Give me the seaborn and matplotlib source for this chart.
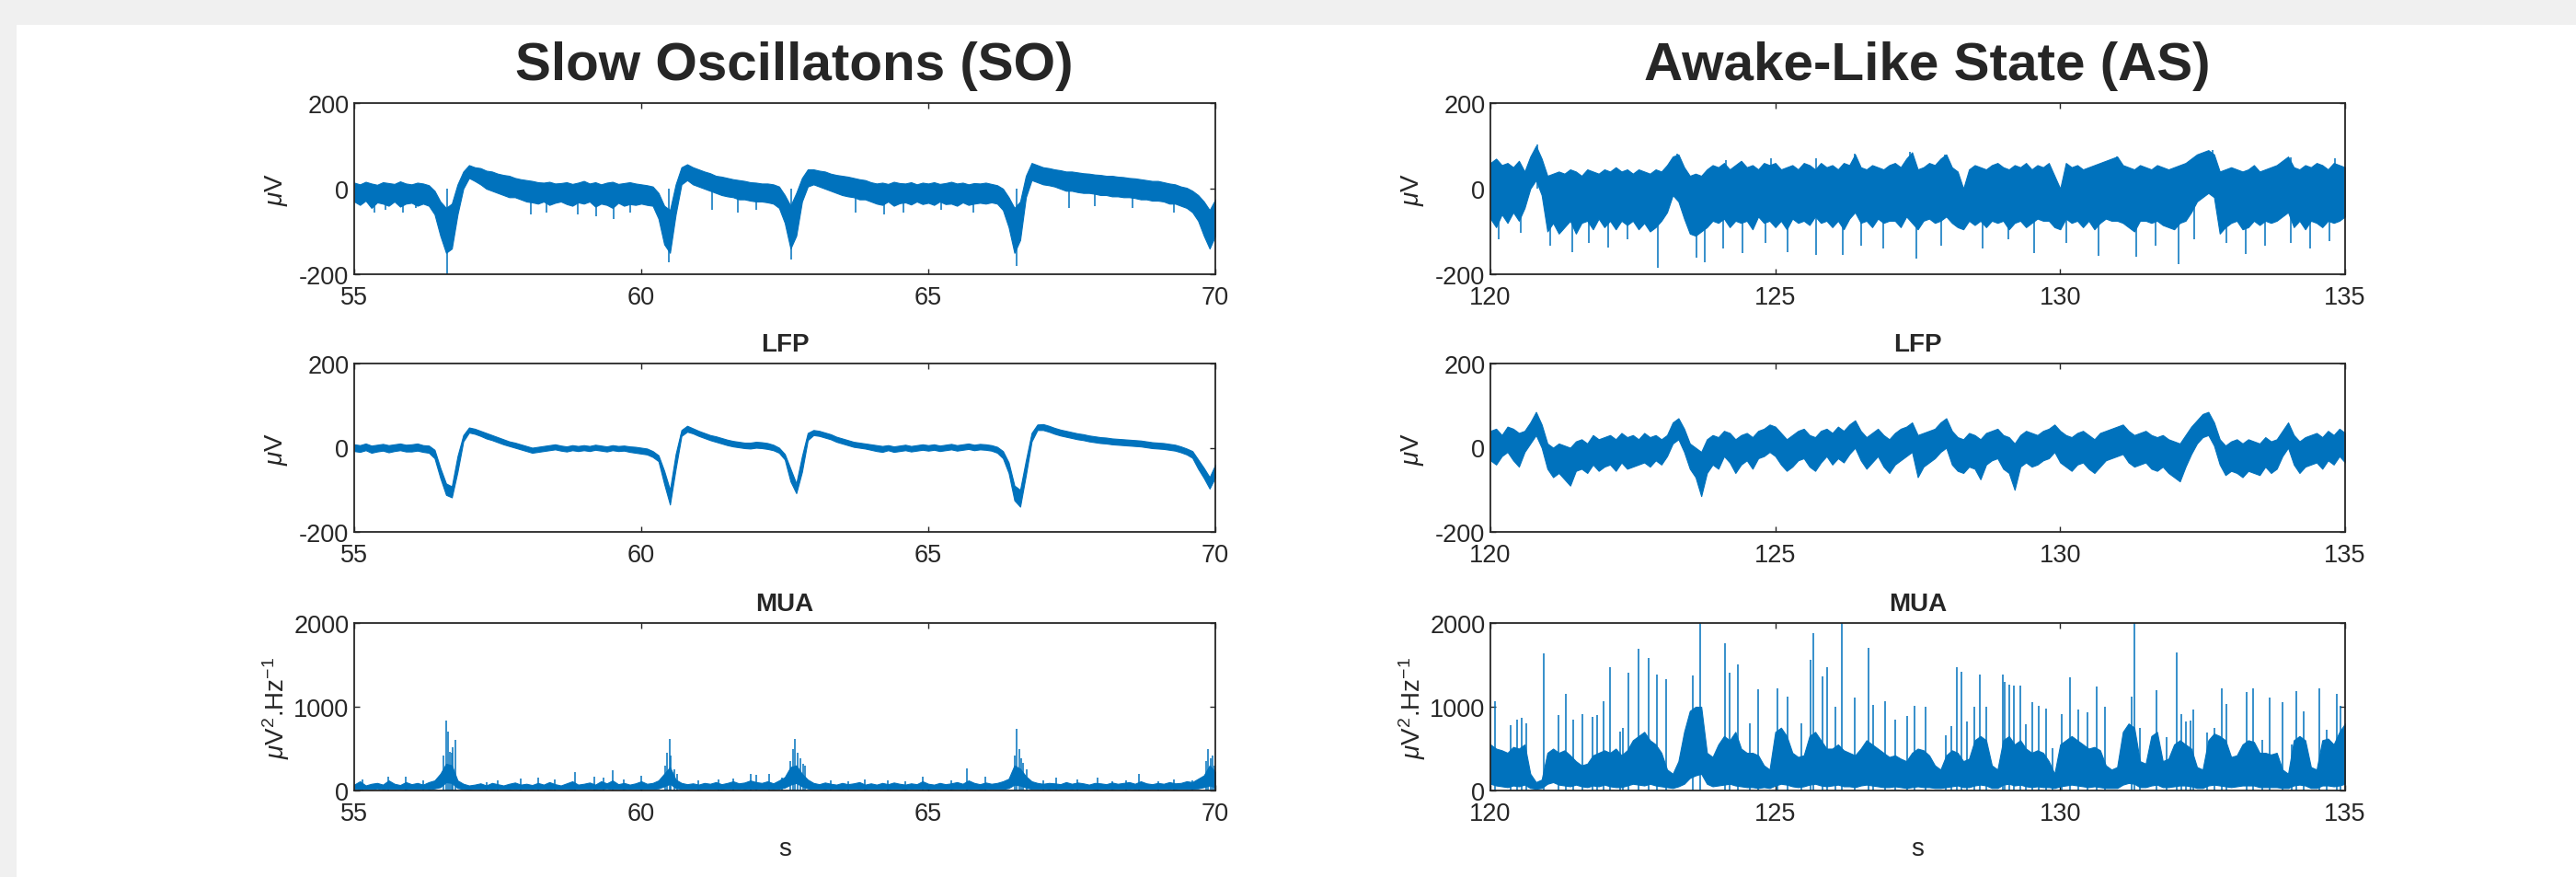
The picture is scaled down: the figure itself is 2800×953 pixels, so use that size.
import numpy as np
import pandas as pd
import matplotlib
matplotlib.use("Agg")
import matplotlib.pyplot as plt
import seaborn as sns
from matplotlib.patches import Rectangle

sns.set_style("white")
plt.rcParams["font.family"] = ["Liberation Sans", "DejaVu Sans"]
plt.rcParams["mathtext.fontset"] = "custom"
plt.rcParams["mathtext.rm"] = "Liberation Sans"
plt.rcParams["mathtext.it"] = "Liberation Sans:italic"
plt.rcParams["mathtext.bf"] = "Liberation Sans:bold"
plt.rcParams["axes.unicode_minus"] = False

TRACE = "#0072BD"
INK = "#262626"
DT = 0.1  # envelope sampling step (s)

# ---------------- Slow oscillations (SO), 55-70 s ----------------
so_t0 = 55.0
so_xticks = [55, 60, 65, 70]

# wideband signal: upper / lower envelope (uV)
so_raw_hi = [
    14, 10, 16, 12, 9, 15, 13, 11, 17, 12,
    10, 14, 12, 8, -5, -30, -45, -35, 10, 40,
    55, 50, 48, 42, 40, 35, 32, 30, 25, 22,
    20, 18, 15, 14, 16, 12, 13, 15, 11, 14,
    18, 12, 15, 10, 14, 16, 11, 13, 15, 12,
    10, 8, 5, -10, -40, -50, 10, 50, 57, 50,
    45, 40, 36, 30, 28, 25, 22, 20, 18, 15,
    14, 12, 12, 10, 5, -15, -40, -10, 25, 45,
    45, 42, 40, 35, 32, 30, 28, 25, 22, 20,
    15, 12, 14, 11, 16, 13, 12, 15, 10, 14,
    12, 15, 11, 13, 16, 12, 14, 10, 13, 12,
    14, 11, 8, 0, -20, -45, -30, 30, 60, 55,
    50, 48, 45, 43, 40, 40, 38, 36, 35, 33,
    32, 30, 30, 28, 27, 25, 24, 22, 20, 18,
    18, 15, 12, 10, 5, 2, -5, -15, -30, -50,
    -25]
so_raw_lo = [
    -30, -38, -28, -45, -32, -35, -40, -30, -42, -35,
    -33, -40, -35, -40, -60, -110, -150, -140, -60, 0,
    25, 18, 10, 0, -5, -10, -15, -20, -20, -25,
    -30, -32, -35, -30, -38, -33, -30, -36, -40, -32,
    -35, -30, -42, -35, -38, -45, -33, -40, -36, -38,
    -35, -38, -40, -70, -130, -150, -60, 10, 20, 10,
    5, 0, -5, -10, -15, -18, -20, -25, -25, -28,
    -30, -30, -32, -35, -45, -80, -140, -110, -30, 5,
    10, 5, 0, -5, -10, -15, -18, -20, -25, -25,
    -30, -35, -38, -30, -40, -34, -32, -37, -30, -36,
    -33, -38, -30, -36, -35, -40, -32, -38, -35, -33,
    -35, -32, -35, -50, -90, -150, -120, -20, 20, 15,
    10, 8, 5, 0, -5, -5, -8, -10, -10, -12,
    -15, -15, -18, -18, -20, -20, -22, -25, -25, -28,
    -28, -30, -35, -35, -40, -45, -55, -75, -110, -140,
    -110]
# isolated deflections beyond the envelope (time s, peak uV)
so_raw_spk_t = [55.35, 55.55, 55.85, 56.08, 56.62, 58.07, 58.35, 58.9, 59.22,
                59.52, 59.8, 60.48, 61.24, 61.68, 62.01, 62.62, 63.73, 64.23,
                64.57, 65.23, 65.78, 66.54, 67.45, 67.9, 68.55, 69.28]
so_raw_spk_v = [-55, -50, -55, -45, -200, -60, -55, -60, -65,
                -70, -55, -173, -50, -55, -50, -165, -55, -60,
                -55, -50, -55, -180, -45, -40, -45, -55]

# LFP: upper / lower envelope (uV)
so_lfp_hi = [
    8, 6, 10, 5, 7, 9, 6, 8, 10, 7,
    8, 10, 6, 5, -5, -48, -85, -92, -20, 30,
    48, 45, 40, 35, 30, 25, 20, 15, 12, 8,
    4, 0, 2, 4, 6, 8, 5, 3, 6, 4,
    6, 4, 7, 5, 3, 6, 4, 5, 3, 2,
    0, -2, -8, -18, -55, -100, -15, 42, 52, 46,
    40, 35, 30, 27, 23, 19, 16, 14, 12, 12,
    14, 13, 11, 7, 0, -15, -50, -85, -20, 35,
    42, 40, 36, 32, 26, 22, 18, 14, 12, 10,
    8, 6, 4, 6, 3, 5, 7, 4, 6, 8,
    6, 8, 5, 7, 9, 6, 8, 10, 7, 9,
    8, 6, 2, -8, -35, -90, -100, -30, 35, 55,
    56, 52, 47, 43, 40, 37, 34, 32, 29, 27,
    25, 24, 22, 21, 20, 19, 18, 17, 15, 13,
    12, 11, 9, 7, 3, -2, -8, -28, -48, -70,
    -40]
so_lfp_lo = [
    -8, -10, -6, -12, -9, -7, -11, -8, -6, -9,
    -9, -7, -10, -12, -25, -72, -112, -118, -57, 15,
    36, 33, 28, 22, 18, 13, 8, 4, 0, -4,
    -8, -12, -10, -8, -6, -4, -7, -9, -6, -8,
    -6, -8, -5, -7, -9, -6, -8, -7, -10, -12,
    -14, -16, -22, -32, -86, -135, -50, 28, 38, 34,
    28, 23, 18, 14, 10, 6, 3, 1, -1, -2,
    0, -1, -3, -6, -12, -28, -80, -108, -57, 18,
    30, 28, 24, 20, 14, 10, 6, 2, 0, -2,
    -5, -8, -10, -6, -10, -8, -6, -9, -7, -5,
    -7, -5, -8, -6, -4, -7, -5, -3, -6, -4,
    -5, -7, -12, -25, -60, -125, -140, -65, 15, 42,
    42, 38, 33, 29, 26, 23, 20, 18, 15, 13,
    11, 10, 8, 7, 6, 5, 4, 3, 1, -1,
    -2, -3, -5, -7, -11, -16, -24, -50, -72, -97,
    -70]

# MUA power: upper / lower envelope (uV^2/Hz)
so_mua_hi = [
    70, 110, 60, 80, 90, 70, 120, 80, 65, 100,
    75, 90, 70, 100, 120, 200, 320, 300, 120, 80,
    60, 70, 85, 60, 90, 75, 60, 80, 95, 70,
    80, 65, 90, 70, 100, 75, 60, 85, 110, 70,
    80, 95, 70, 110, 85, 120, 75, 90, 70, 85,
    110, 80, 90, 120, 200, 280, 130, 90, 75, 85,
    70, 90, 80, 100, 75, 90, 110, 85, 95, 120,
    100, 90, 110, 85, 120, 160, 280, 300, 200, 130,
    90, 75, 95, 80, 70, 90, 75, 85, 100, 70,
    85, 70, 90, 75, 95, 80, 70, 85, 75, 110,
    80, 70, 90, 75, 85, 100, 80, 120, 90, 75,
    95, 80, 90, 110, 140, 300, 260, 170, 110, 90,
    80, 90, 85, 75, 100, 80, 95, 85, 70, 90,
    85, 75, 95, 80, 90, 100, 80, 110, 85, 75,
    90, 80, 100, 85, 90, 110, 100, 140, 180, 300,
    220]
so_mua_lo = [
    20, 15, 22, 18, 25, 15, 20, 18, 22, 16,
    20, 18, 22, 16, 25, 40, 100, 90, 30, 18,
    15, 20, 18, 22, 15, 20, 18, 16, 22, 18,
    20, 16, 22, 18, 15, 20, 22, 18, 16, 20,
    18, 22, 16, 20, 25, 18, 20, 16, 22, 18,
    22, 18, 20, 25, 50, 80, 30, 20, 18, 22,
    16, 20, 18, 22, 15, 20, 18, 22, 16, 20,
    22, 18, 20, 16, 22, 35, 70, 90, 50, 25,
    18, 20, 16, 22, 18, 15, 20, 18, 22, 16,
    20, 18, 22, 16, 20, 18, 15, 22, 18, 20,
    16, 20, 18, 22, 16, 20, 18, 22, 20, 16,
    18, 22, 20, 18, 30, 70, 60, 35, 20, 18,
    20, 16, 22, 18, 20, 16, 22, 18, 20, 16,
    18, 22, 16, 20, 18, 22, 16, 20, 18, 22,
    20, 18, 22, 16, 20, 18, 22, 25, 40, 60,
    40]
so_mua_spk_t = [56.56, 56.61, 56.64, 56.66, 56.70, 56.72, 56.76,
                60.42, 60.45, 60.49, 60.52, 60.57,
                62.6, 62.64, 62.68, 62.72, 62.77, 62.82, 62.86,
                66.5, 66.54, 66.58, 66.62, 66.65, 66.72,
                69.84, 69.87, 69.92, 69.95, 69.98,
                55.15, 55.6, 55.9, 56.2, 57.3, 57.5, 57.9, 58.2, 58.5, 58.85,
                59.18, 59.35, 59.5, 59.7, 60.0, 60.62, 61.0, 61.35, 61.6, 61.9,
                62.0, 62.23, 62.45, 63.3, 63.6, 63.9, 64.3, 64.6, 64.9, 65.4,
                65.68, 66.0, 67.0, 67.23, 67.6, 67.95, 68.2, 68.45, 68.67, 69.0,
                69.28, 69.6]
so_mua_spk_v = [420, 830, 700, 460, 450, 520, 600,
                300, 450, 610, 420, 250,
                350, 500, 610, 450, 380, 320, 300,
                420, 740, 500, 380, 330, 250,
                350, 500, 380, 420, 300,
                130, 170, 160, 120, 100, 120, 140, 150, 130, 220,
                160, 150, 240, 130, 180, 200, 120, 130, 140, 200,
                190, 200, 150, 120, 110, 130, 120, 110, 170, 120,
                260, 160, 120, 150, 130, 150, 110, 120, 200, 110,
                130, 120]

# ---------------- Awake-like state (AS), 120-135 s ----------------
as_t0 = 120.0
as_xticks = [120, 125, 130, 135]

as_raw_hi = [
    60, 70, 55, 60, 50, 65, 40, 75, 100, 70,
    30, 35, 40, 35, 45, 40, 30, 45, 40, 35,
    45, 40, 50, 40, 45, 35, 45, 40, 35, 45,
    40, 55, 75, 80, 50, 30, 35, 30, 45, 55,
    50, 60, 45, 55, 65, 50, 55, 45, 60, 55,
    60, 45, 50, 55, 45, 60, 55, 45, 60, 50,
    55, 45, 60, 55, 80, 50, 45, 55, 50, 45,
    55, 60, 50, 70, 85, 45, 50, 60, 55, 70,
    80, 50, 40, 0, 45, 55, 50, 45, 55, 60,
    50, 45, 55, 50, 60, 45, 55, 50, 60, 30,
    0, 60, 50, 55, 45, 50, 55, 60, 65, 70,
    75, 55, 50, 45, 55, 50, 45, 55, 50, 45,
    50, 55, 60, 70, 80, 85, 90, 80, 40, 45,
    50, 45, 40, 45, 55, 40, 45, 50, 55, 65,
    75, 50, 45, 55, 50, 60, 55, 45, 60, 55,
    50]
as_raw_lo = [
    -70, -90, -60, -80, -55, -75, -45, 0, 20, -15,
    -100, -80, -105, -90, -75, -105, -80, -75, -95, -70,
    -90, -75, -95, -75, -85, -75, -95, -80, -100, -90,
    -75, -55, -15, -30, -70, -105, -110, -100, -90, -75,
    -80, -70, -90, -75, -80, -75, -95, -65, -80, -75,
    -90, -75, -95, -70, -80, -75, -85, -65, -80, -75,
    -90, -75, -95, -70, -55, -80, -75, -90, -70, -80,
    -75, -75, -90, -65, -80, -95, -75, -70, -80, -75,
    -65, -80, -90, -95, -75, -85, -75, -90, -75, -80,
    -75, -95, -80, -75, -90, -80, -70, -75, -75, -90,
    -95, -70, -80, -75, -90, -75, -95, -80, -70, -75,
    -75, -80, -90, -100, -75, -75, -80, -75, -85, -90,
    -95, -80, -75, -55, -30, -20, -10, -20, -105, -90,
    -80, -75, -95, -90, -75, -85, -75, -80, -75, -65,
    -55, -90, -75, -95, -75, -80, -90, -75, -80, -75,
    -65]
as_raw_spk_t = [120.15, 120.54, 121.05, 121.44, 121.72, 122.06, 122.4, 122.94,
                123.61, 123.77, 124.08, 124.42, 124.82, 125.21, 125.72, 126.19,
                126.5, 126.9, 127.48, 127.91, 128.64, 129.09, 129.54, 130.1,
                130.67, 131.34, 131.68, 132.07, 132.36, 132.92, 133.25, 133.59,
                134.04, 134.38, 134.72,
                120.82, 123.27, 124.14, 124.93, 125.72, 126.39, 127.37, 127.97,
                131.0, 132.67, 134.04, 134.83]
as_raw_spk_v = [-118, -104, -133, -148, -126, -137, -118, -184,
                -162, -171, -140, -151, -126, -148, -155, -155,
                -133, -140, -164, -133, -140, -118, -151, -126,
                -156, -160, -133, -177, -118, -126, -153, -133,
                -126, -140, -122,
                103, 81, 67, 72, 70, 81, 85, 79,
                76, 91, 74, 70]

as_lfp_hi = [
    40, 45, 30, 50, 45, 35, 40, 60, 85, 55,
    10, 0, 10, 5, 0, 15, 20, 10, 30, 20,
    25, 30, 20, 35, 25, 30, 20, 35, 25, 30,
    20, 30, 60, 70, 45, 10, 0, -10, 20, 30,
    25, 40, 35, 20, 30, 35, 25, 40, 45, 55,
    50, 35, 20, 30, 40, 45, 30, 25, 40, 45,
    35, 50, 40, 55, 65, 40, 25, 35, 45, 30,
    20, 35, 45, 50, 60, 30, 35, 40, 45, 60,
    70, 40, 25, 20, 35, 30, 20, 35, 40, 45,
    30, 25, 10, 30, 40, 35, 30, 40, 45, 55,
    40, 30, 25, 35, 40, 30, 20, 35, 40, 45,
    50, 55, 40, 30, 35, 40, 30, 25, 30, 20,
    15, 10, 30, 50, 65, 80, 85, 60, 20, 5,
    15, 20, 10, 20, 15, 10, 25, 15, 20, 40,
    60, 30, 15, 25, 30, 35, 25, 40, 30, 45,
    35]
as_lfp_lo = [
    -30, -40, -20, -10, -30, -45, -10, 10, 30, 0,
    -50, -70, -60, -75, -90, -55, -50, -60, -40, -55,
    -45, -40, -55, -35, -50, -45, -40, -35, -45, -30,
    -40, -20, 10, 20, -10, -50, -70, -115, -60, -40,
    -50, -20, -35, -60, -40, -30, -50, -25, -20, -10,
    -20, -40, -55, -45, -30, -25, -45, -55, -35, -20,
    -40, -25, -35, -15, 0, -30, -50, -35, -20, -45,
    -60, -40, -30, -20, -10, -70, -45, -35, -25, -10,
    0, -40, -55, -60, -45, -50, -75, -40, -30, -25,
    -50, -60, -100, -45, -35, -45, -40, -30, -25, -10,
    -35, -45, -55, -40, -35, -50, -60, -45, -30, -25,
    -20, -15, -35, -45, -40, -35, -50, -55, -45, -60,
    -70, -80, -45, -15, 10, 25, 30, 5, -40, -65,
    -55, -60, -70, -55, -60, -65, -45, -60, -50, -20,
    0, -40, -60, -45, -40, -35, -50, -30, -40, -20,
    -35]

as_mua_hi = [
    550, 500, 480, 450, 520, 500, 550, 200, 100, 130,
    450, 500, 450, 480, 420, 350, 300, 320, 420, 450,
    480, 450, 500, 420, 480, 600, 650, 700, 600, 550,
    450, 250, 200, 350, 700, 950, 1000, 1000, 450, 400,
    550, 650, 600, 700, 500, 450, 450, 420, 300, 250,
    700, 750, 650, 450, 400, 420, 650, 700, 600, 500,
    500, 550, 480, 450, 420, 500, 600, 550, 500, 450,
    400, 420, 380, 350, 450, 500, 480, 420, 300, 250,
    420, 480, 450, 350, 380, 600, 650, 600, 300, 250,
    600, 650, 550, 600, 500, 450, 480, 450, 350, 200,
    550, 600, 650, 600, 550, 500, 520, 480, 300, 250,
    280, 700, 800, 750, 350, 320, 650, 700, 350, 380,
    550, 600, 550, 500, 280, 250, 600, 680, 650, 600,
    400, 420, 550, 600, 580, 450, 450, 430, 450, 250,
    200, 600, 650, 600, 280, 250, 600, 620, 550, 700,
    800]
as_mua_lo = [
    80, 60, 50, 40, 60, 50, 70, 30, 20, 30,
    80, 100, 70, 60, 50, 70, 50, 40, 60, 50,
    70, 50, 40, 40, 60, 80, 70, 60, 80, 60,
    50, 40, 30, 50, 80, 150, 180, 200, 80, 50,
    60, 70, 80, 60, 50, 40, 40, 30, 40, 30,
    60, 80, 70, 50, 40, 50, 70, 80, 60, 50,
    60, 70, 50, 50, 40, 60, 70, 60, 50, 40,
    40, 50, 40, 30, 40, 50, 40, 40, 30, 30,
    40, 50, 60, 40, 40, 60, 70, 60, 30, 30,
    70, 80, 60, 70, 50, 40, 50, 40, 40, 30,
    50, 60, 70, 60, 50, 40, 50, 40, 30, 30,
    30, 70, 90, 80, 40, 40, 60, 70, 40, 40,
    50, 60, 60, 50, 30, 30, 60, 70, 60, 50,
    40, 50, 60, 60, 60, 40, 40, 40, 40, 30,
    30, 60, 70, 60, 30, 30, 60, 60, 50, 60,
    80]
as_mua_spk_t = [
    120.08, 120.36, 120.47, 120.55, 120.63, 120.94, 121.2, 121.33, 121.45,
    121.61, 121.8, 121.87, 121.98, 122.1, 122.27, 122.33, 122.43, 122.6,
    122.78, 122.93, 123.08, 123.55, 123.68, 124.11, 124.2, 124.34, 124.55,
    124.7, 125.04, 125.21, 125.45, 125.62, 125.66, 125.83, 125.91, 126.06,
    126.16, 126.4, 126.64, 126.71, 126.92, 127.1, 127.32, 127.45, 127.63,
    128.0, 128.09, 128.19, 128.27, 128.36, 128.49, 128.59, 128.71, 128.99,
    129.02, 129.11, 129.19, 129.3, 129.4, 129.51, 129.62, 129.76, 129.87,
    130.03, 130.18, 130.32, 130.48, 130.64, 130.78, 131.25, 131.3, 131.4,
    131.69, 131.87, 132.04, 132.12, 132.2, 132.28, 132.34, 132.57, 132.71,
    132.84, 132.91, 133.27, 133.39, 133.55, 133.67, 133.9, 134.06, 134.15,
    134.27, 134.54, 134.68, 134.86, 134.92]
as_mua_spk_v = [
    1070, 780, 850, 870, 800, 1640, 900, 1150, 850,
    910, 880, 900, 1070, 1475, 700, 750, 1410, 1690,
    1585, 1390, 1330, 1370, 2050, 1760, 1410, 1510, 800,
    1210, 1220, 1125, 800, 1560, 1880, 1365, 1475, 995,
    2050, 1115, 1705, 1025, 1070, 850, 895, 1015, 1000,
    655, 765, 1475, 1420, 820, 1000, 1390, 1000, 1390,
    1300, 1260, 1250, 1250, 790, 1060, 1015, 980, 510,
    910, 1350, 965, 930, 1240, 1000, 1125, 2050, 750,
    1200, 640, 1650, 910, 820, 840, 965, 690, 750,
    1220, 1035, 1175, 1220, 600, 1115, 1050, 545, 1190,
    950, 1215, 730, 1150, 1015]


def envelope_frame(t0, hi, lo):
    """Long-form table: two samples (upper, lower) per time bin."""
    t = np.round(t0 + DT * np.arange(len(hi)), 3)
    return pd.DataFrame({"t": np.concatenate([t, t]),
                         "v": np.concatenate([hi, lo]).astype(float)})


def draw_trace(ax, t0, hi, lo, spk_t=None, spk_v=None):
    df = envelope_frame(t0, hi, lo)
    sns.lineplot(data=df, x="t", y="v", estimator="mean",
                 errorbar=("pi", 100), color=TRACE, linewidth=0.6,
                 err_kws={"alpha": 1.0, "linewidth": 0.8, "edgecolor": TRACE},
                 ax=ax)
    if spk_t is not None:
        ax.vlines(spk_t, 0, spk_v, color=TRACE, linewidth=1.1)


def style_axes(ax, xlim, xticks, ylim, yticks):
    ax.set_xlim(*xlim)
    ax.set_ylim(*ylim)
    ax.set_xticks(xticks)
    ax.set_yticks(yticks)
    ax.tick_params(direction="in", length=4.5, width=1.0, colors=INK,
                   labelsize=19.5, top=True, right=True, bottom=True, left=True,
                   labeltop=False, labelright=False)
    ax.tick_params(axis="x", pad=9)
    ax.tick_params(axis="y", pad=4)
    for sp in ax.spines.values():
        sp.set_visible(True)
        sp.set_color(INK)
        sp.set_linewidth(1.3)
    ax.set_xlabel("")
    ax.set_ylabel("")


W, H = 2800, 954
fig = plt.figure(figsize=(W / 100, H / 100), dpi=100)
fig.patch.set_facecolor("white")
fig.add_artist(Rectangle((0, 1 - 28 / H), 1, 28 / H, transform=fig.transFigure,
                         facecolor="#f0f0f0", edgecolor="none", zorder=-10))
fig.add_artist(Rectangle((0, 0), 18 / W, 1, transform=fig.transFigure,
                         facecolor="#f0f0f0", edgecolor="none", zorder=-10))

cols = [(385, 936), (1620, 929)]
rows = [(113, 299), (396, 579), (678, 860)]


def make_ax(c, r):
    x0, w = cols[c]
    top, bot = rows[r]
    return fig.add_axes([x0 / W, 1 - bot / H, w / W, (bot - top) / H])


uv = r"$\mu$V"
mua_unit = r"$\mu$V$^{2}$.Hz$^{-1}$"

panels = [
    (0, so_t0, so_xticks, "Slow Oscillatons (SO)",
     [(so_raw_hi, so_raw_lo, so_raw_spk_t, so_raw_spk_v),
      (so_lfp_hi, so_lfp_lo, None, None),
      (so_mua_hi, so_mua_lo, so_mua_spk_t, so_mua_spk_v)]),
    (1, as_t0, as_xticks, "Awake-Like State (AS)",
     [(as_raw_hi, as_raw_lo, as_raw_spk_t, as_raw_spk_v),
      (as_lfp_hi, as_lfp_lo, None, None),
      (as_mua_hi, as_mua_lo, as_mua_spk_t, as_mua_spk_v)]),
]

for c, t0, xticks, title, series in panels:
    xlim = (xticks[0], xticks[-1])
    for r, (hi, lo, st, sv) in enumerate(series):
        ax = make_ax(c, r)
        draw_trace(ax, t0, hi, lo, st, sv)
        if r < 2:
            style_axes(ax, xlim, xticks, (-200, 200), [-200, 0, 200])
            ylab = uv
        else:
            style_axes(ax, xlim, xticks, (0, 2000), [0, 1000, 2000])
            ylab = mua_unit
        ax.set_ylabel(ylab, fontsize=20, color=INK)
        ax.yaxis.label.set_va("center")
        ax.yaxis.set_label_coords(-85 / cols[c][1], 0.5)
        if r == 0:
            ax.set_title(title, fontsize=42, fontweight="bold", pad=19, x=0.511)
        elif r == 1:
            ax.set_title("LFP", fontsize=20, fontweight="bold", pad=10)
        else:
            ax.set_title("MUA", fontsize=20, fontweight="bold", pad=10)
            ax.set_xlabel("s", fontsize=20, color=INK)
            ax.xaxis.label.set_va("center")
            ax.xaxis.set_label_coords(0.5, -(923 - 860) / (860 - 678))

fig.savefig("out.png", dpi=100, facecolor=fig.get_facecolor())
